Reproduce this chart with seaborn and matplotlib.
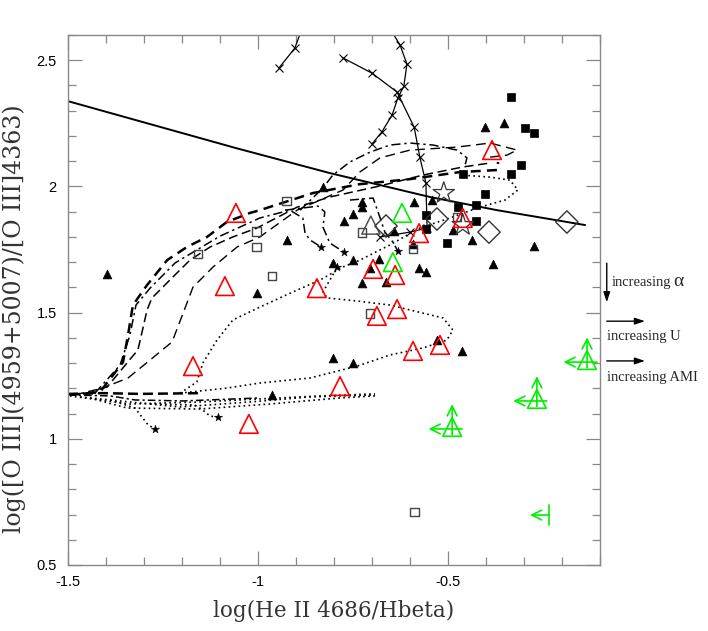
import matplotlib
matplotlib.use("Agg")
import matplotlib.pyplot as plt
from matplotlib.ticker import MultipleLocator, FuncFormatter
import numpy as np
import pandas as pd
import seaborn as sns

# ---- point samples ----
sq_fill_x = [-0.334, -0.298, -0.274, -0.308, -0.334, -0.461, -0.403, -0.474, -0.426, -0.426, -0.558, -0.558, -0.503]
sq_fill_y = [2.354, 2.231, 2.212, 2.085, 2.049, 2.049, 1.970, 1.918, 1.926, 1.863, 1.887, 1.831, 1.776]

tri_fill_x = [-0.403, -0.353, -0.829, -0.726, -0.726, -0.750, -0.774, -0.589, -0.542, -0.642, -0.592,
              -0.487, -0.437, -0.274, -0.382, -0.576, -0.558, -0.682, -0.750, -0.803, -0.705, -0.726,
              -0.663, -0.924, -1.397, -1.003, -0.803, -0.750, -0.529, -0.463, -0.963]
tri_fill_y = [2.235, 2.251, 1.998, 1.938, 1.918, 1.891, 1.863, 1.938, 1.946, 1.823, 1.772,
              1.827, 1.788, 1.764, 1.693, 1.677, 1.661, 1.712, 1.708, 1.697, 1.677, 1.617,
              1.621, 1.788, 1.653, 1.578, 1.320, 1.300, 1.391, 1.348, 1.174]

sq_open_x = [-0.924, -1.003, -1.003, -1.158, -0.963, -0.726, -0.592, -0.705, -0.476, -0.589]
sq_open_y = [1.942, 1.823, 1.760, 1.732, 1.645, 1.819, 1.752, 1.498, 1.879, 0.710]

dia_x = [-0.663, -0.529, -0.392, -0.187]
dia_y = [1.843, 1.871, 1.819, 1.859]

tri_open_x = [-0.703]
tri_open_y = [1.847]

star_open_x = [-0.511, -0.461]
star_open_y = [1.974, 1.847]

star_fill_x = [-0.834, -0.774, -0.632, -0.792, -1.271, -1.105]
star_fill_y = [1.760, 1.740, 1.744, 1.681, 1.039, 1.086]

red_x = [-1.058, -1.087, -1.171, -0.845, -0.784, -1.024, -0.697, -0.639, -0.687, -0.634,
         -0.592, -0.521, -0.384, -0.461, -0.576]
red_y = [1.895, 1.605, 1.288, 1.597, 1.209, 1.059, 1.673, 1.649, 1.487, 1.514,
         1.348, 1.372, 2.144, 1.875, 1.815]

green_x = [-0.621, -0.645]
green_y = [1.895, 1.700]

# green limits (both axes) and one x-only limit
lim_x = [-0.134, -0.266, -0.489]
lim_y = [1.312, 1.158, 1.047]
xlim_only_x = [-0.234]
xlim_only_y = [0.698]

# ---- model curves ----
sep_x = [-1.5, -1.058, -0.811, -0.547, -0.371, -0.139]
sep_y = [2.338, 2.152, 2.053, 1.958, 1.906, 1.847]

d1_x = [-1.495, -1.416, -1.355, -1.342, -1.329, -1.292, -1.239, -1.187, -1.134, -1.082, -1.021, -0.995,
        -0.855, -0.732, -0.600, -0.468, -0.371, -0.368]
d1_y = [1.174, 1.185, 1.304, 1.411, 1.530, 1.609, 1.708, 1.760, 1.800, 1.859, 1.895, 1.906,
        1.974, 2.009, 2.029, 2.057, 2.065, 2.097]
d2_x = [-1.482, -1.397, -1.345, -1.316, -1.305, -1.292, -1.279, -1.224, -1.179, -1.126, -1.066, -1.003,
        -0.897, -0.811, -0.679, -0.566, -0.461, -0.389]
d2_y = [1.174, 1.205, 1.300, 1.352, 1.423, 1.510, 1.558, 1.641, 1.708, 1.760, 1.800, 1.835,
        1.918, 1.958, 2.002, 2.045, 2.077, 2.093]
d3_x = [-1.455, -1.342, -1.284, -1.226, -1.197, -1.171, -1.118, -1.055, -0.995, -0.897, -0.776, -0.732,
        -0.679, -0.600, -0.476, -0.389, -0.318, -0.345, -0.389]
d3_y = [1.174, 1.241, 1.312, 1.384, 1.498, 1.601, 1.681, 1.760, 1.800, 1.906, 1.986, 2.057,
        2.113, 2.144, 2.156, 2.172, 2.144, 2.124, 2.116]

dd1_x = [-1.429, -1.363, -1.337, -1.321, -1.284, -1.218, -1.100, -0.995, -0.916, -0.882, -0.876, -0.863, -0.834]
dd1_y = [1.181, 1.292, 1.411, 1.530, 1.597, 1.697, 1.803, 1.875, 1.906, 1.875, 1.815, 1.788, 1.760]
dd2_x = [-0.929, -0.842, -0.824, -0.829, -0.811, -0.774]
dd2_y = [1.906, 1.922, 1.899, 1.839, 1.776, 1.740]
dd3_x = [-0.889, -0.829, -0.803, -0.758, -0.705, -0.653, -0.600, -0.539, -0.476, -0.450, -0.455]
dd3_y = [1.906, 1.994, 2.045, 2.097, 2.136, 2.164, 2.172, 2.164, 2.144, 2.113, 2.085]
dd4_x = [-0.758, -0.697, -0.684, -0.666, -0.645, -0.632]
dd4_y = [1.946, 1.954, 1.899, 1.819, 1.780, 1.744]

p1_x = [-1.205, -1.161, -1.145, -1.108, -1.066, -0.995, -0.908, -0.837, -0.776, -0.732, -0.653, -0.574,
        -0.495, -0.416, -0.350, -0.316, -0.337, -0.389, -0.463]
p1_y = [1.181, 1.225, 1.300, 1.391, 1.471, 1.522, 1.582, 1.629, 1.681, 1.708, 1.768, 1.835,
        1.875, 1.918, 1.946, 1.986, 2.025, 2.037, 2.045]
p2_x = [-1.205, -1.082, -0.995, -0.863, -0.739, -0.653, -0.566, -0.503, -0.487, -0.513, -0.566, -0.653,
        -0.739, -0.818, -0.829, -0.803, -0.792]
p2_y = [1.181, 1.201, 1.221, 1.241, 1.288, 1.332, 1.360, 1.391, 1.431, 1.479, 1.498, 1.530,
        1.546, 1.558, 1.582, 1.649, 1.681]

b1_x = [-1.495, -1.337, -1.153, -0.995, -0.837, -0.692]
b1_y = [1.170, 1.138, 1.146, 1.158, 1.170, 1.178]
b2_x = [-1.468, -1.205, -1.021, -0.863, -0.692]
b2_y = [1.166, 1.126, 1.146, 1.166, 1.174]
b3_x = [-1.442, -1.345, -1.153, -0.968, -0.784, -0.692]
b3_y = [1.162, 1.122, 1.118, 1.138, 1.162, 1.170]
b4_x = [-1.389, -1.324, -1.303, -1.289, -1.271]
b4_y = [1.154, 1.122, 1.082, 1.055, 1.039]
b5_x = [-1.284, -1.166, -1.145, -1.126, -1.105]
b5_y = [1.138, 1.134, 1.114, 1.090, 1.086]
b6_x = [-1.5, -1.408, -1.311, -1.145]
b6_y = [1.178, 1.181, 1.178, 1.181]
b7_x = [-1.5, -1.389, -1.324, -1.197, -0.995]
b7_y = [1.174, 1.170, 1.154, 1.150, 1.162]

xa_x = [-0.876, -0.903, -0.945]
xa_y = [2.659, 2.548, 2.469]
xb_x = [-0.666, -0.626, -0.608, -0.616, -0.632, -0.647, -0.674, -0.700]
xb_y = [2.659, 2.560, 2.485, 2.398, 2.350, 2.283, 2.216, 2.168]
xc_x = [-0.776, -0.700, -0.634, -0.589, -0.574, -0.558, -0.555, -0.600, -0.679]
xc_y = [2.509, 2.449, 2.374, 2.235, 2.116, 2.013, 1.835, 1.819, 1.800]

# ---- style ----
sns.set_style("ticks")
plt.rcParams["font.family"] = ["Liberation Sans", "DejaVu Sans"]
plt.rcParams["axes.unicode_minus"] = False

fig = plt.figure(figsize=(7.08, 6.31), dpi=100)
ax = fig.add_axes([0.096, 0.1046, 0.7514, 0.8399])

k = "black"
ax.plot(sep_x, sep_y, color=k, lw=1.4, zorder=2)
ax.plot(d1_x, d1_y, color=k, lw=1.8, ls=(0, (4, 2.5)), zorder=2)
ax.plot(d2_x, d2_y, color=k, lw=1.1, ls=(0, (6, 3)), zorder=2)
ax.plot(d3_x, d3_y, color=k, lw=1.0, ls=(0, (7, 4)), zorder=2)
for xx, yy in [(dd1_x, dd1_y), (dd2_x, dd2_y), (dd3_x, dd3_y), (dd4_x, dd4_y)]:
    ax.plot(xx, yy, color=k, lw=1.1, ls=(0, (6, 2.5, 1.5, 2.5)), zorder=2)
for xx, yy in [(p1_x, p1_y), (p2_x, p2_y), (b1_x, b1_y), (b2_x, b2_y), (b3_x, b3_y),
               (b4_x, b4_y), (b5_x, b5_y)]:
    ax.plot(xx, yy, color=k, lw=1.2, ls=(0, (1, 2)), zorder=2)
ax.plot(b6_x, b6_y, color=k, lw=1.8, ls=(0, (4, 2)), zorder=2)
ax.plot(b7_x, b7_y, color=k, lw=1.1, ls=(0, (5, 2, 1.5, 2)), zorder=2)
for xx, yy in [(xa_x, xa_y), (xb_x, xb_y), (xc_x, xc_y)]:
    ax.plot(xx, yy, color=k, lw=0.9, marker="x", ms=6, mew=0.8, zorder=2)

def pts(x, y):
    return pd.DataFrame({"x": x, "y": y})

sns.scatterplot(data=pts(sq_fill_x, sq_fill_y), x="x", y="y", marker="s", s=30, color=k,
                edgecolor=k, linewidth=0.5, ax=ax, zorder=3)
sns.scatterplot(data=pts(tri_fill_x, tri_fill_y), x="x", y="y", marker="^", s=40, color=k,
                edgecolor=k, linewidth=0.5, ax=ax, zorder=3)
sns.scatterplot(data=pts(sq_open_x, sq_open_y), x="x", y="y", marker="s", s=40, color="#444444",
                facecolors="none", edgecolors="#444444", linewidth=1.0, ax=ax, zorder=3)
sns.scatterplot(data=pts(dia_x, dia_y), x="x", y="y", marker="D", s=130, color="#333333",
                facecolors="none", edgecolors="#333333", linewidth=1.0, ax=ax, zorder=3)
sns.scatterplot(data=pts(tri_open_x, tri_open_y), x="x", y="y", marker="^", s=170, color="#444444",
                facecolors="none", edgecolors="#444444", linewidth=1.0, ax=ax, zorder=3)
sns.scatterplot(data=pts(star_open_x, star_open_y), x="x", y="y", marker="*", s=260, color="#333333",
                facecolors="none", edgecolors="#333333", linewidth=0.9, ax=ax, zorder=3)
sns.scatterplot(data=pts(star_fill_x, star_fill_y), x="x", y="y", marker="*", s=40, color=k,
                edgecolor=k, linewidth=0.3, ax=ax, zorder=3)
sns.scatterplot(data=pts(red_x, red_y), x="x", y="y", marker="^", s=180, color="red",
                facecolors="none", edgecolors="red", linewidth=1.2, ax=ax, zorder=4)
sns.scatterplot(data=pts(green_x + lim_x, green_y + lim_y), x="x", y="y", marker="^", s=180,
                color="#00ee00", facecolors="none", edgecolors="#00ee00", linewidth=1.2, ax=ax, zorder=4)

g = "#00ee00"
arw = dict(arrowstyle="->,head_length=0.7,head_width=0.35", color=g, lw=1.2, shrinkA=0, shrinkB=0)
for xv, yv in zip(lim_x, lim_y):
    ax.annotate("", xy=(xv, yv + 0.09), xytext=(xv, yv - 0.03), arrowprops=arw, zorder=4)
    ax.annotate("", xy=(xv - 0.062, yv - 0.008), xytext=(xv + 0.026, yv - 0.008), arrowprops=arw, zorder=4)
for xv, yv in zip(xlim_only_x, xlim_only_y):
    ax.annotate("", xy=(xv - 0.05, yv), xytext=(xv, yv), arrowprops=arw, zorder=4)
    ax.plot([xv, xv], [yv - 0.04, yv + 0.04], color=g, lw=1.2, zorder=4)

ax.set_xlim(-1.5, -0.1)
ax.set_ylim(0.5, 2.6)
ax.xaxis.set_major_locator(MultipleLocator(0.5))
ax.xaxis.set_minor_locator(MultipleLocator(0.1))
ax.yaxis.set_major_locator(MultipleLocator(0.5))
ax.yaxis.set_minor_locator(MultipleLocator(0.1))
fmt = FuncFormatter(lambda v, p: "%g" % v)
ax.xaxis.set_major_formatter(fmt)
ax.yaxis.set_major_formatter(fmt)
ax.tick_params(which="both", direction="in", top=True, right=True, colors="#888888",
               labelcolor="black", labelsize=10.5)
ax.tick_params(which="major", length=10, width=0.9)
ax.tick_params(which="minor", length=6, width=0.9)
ax.tick_params(axis="x", pad=7)
ax.tick_params(axis="y", pad=8)
for sp in ax.spines.values():
    sp.set_color("#888888")
    sp.set_linewidth(1.0)

ax.set_xlabel("log(He II 4686/Hbeta)", labelpad=8, family="DejaVu Serif", fontsize=15.5,
              color="#333333")
ax.set_ylabel("log([O III](4959+5007)/[O III]4363)", family="DejaVu Serif",
              fontsize=17, color="#333333")
ax.yaxis.set_label_coords(-0.078, 0.465)

# direction indicators outside the axes
fa = dict(arrowstyle="-|>,head_length=0.6,head_width=0.2", color="black", lw=1.0,
          shrinkA=0, shrinkB=0)
ax.annotate("", xy=(0.857, 0.521), xytext=(0.857, 0.583), xycoords="figure fraction",
            textcoords="figure fraction", arrowprops=fa)
ax.annotate("", xy=(0.911, 0.491), xytext=(0.857, 0.491), xycoords="figure fraction",
            textcoords="figure fraction", arrowprops=fa)
ax.annotate("", xy=(0.911, 0.428), xytext=(0.857, 0.428), xycoords="figure fraction",
            textcoords="figure fraction", arrowprops=fa)
tf = dict(family="Liberation Serif", fontsize=10.5, va="center", ha="left")
fig.text(0.864, 0.552, "increasing", **tf)
fig.text(0.951, 0.554, "\u03b1", family="Liberation Serif", fontsize=14, va="center", ha="left")
fig.text(0.857, 0.466, "increasing U", **tf)
fig.text(0.857, 0.4025, "increasing AMI", **tf)

fig.savefig("out.png", dpi=100)
